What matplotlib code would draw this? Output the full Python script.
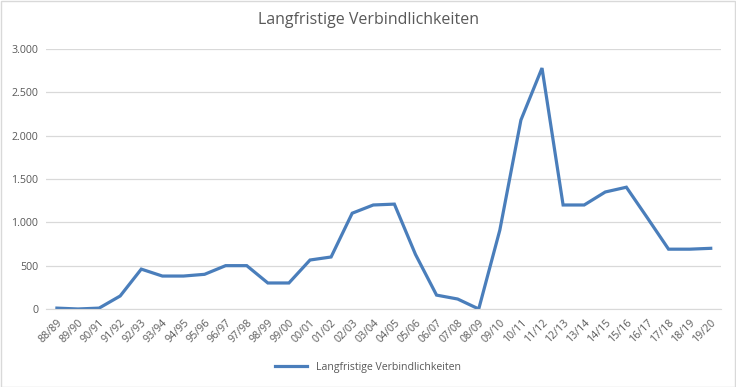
import matplotlib
matplotlib.use("Agg")
import matplotlib.pyplot as plt
from matplotlib.ticker import FuncFormatter

years = ["88/89", "89/90", "90/91", "91/92", "92/93", "93/94", "94/95", "95/96",
         "96/97", "97/98", "98/99", "99/00", "00/01", "01/02", "02/03", "03/04",
         "04/05", "05/06", "06/07", "07/08", "08/09", "09/10", "10/11", "11/12",
         "12/13", "13/14", "14/15", "15/16", "16/17", "17/18", "18/19", "19/20"]
values = [10, 0, 10, 150, 460, 380, 380, 400,
          500, 500, 300, 300, 565, 600, 1105, 1200,
          1210, 630, 160, 115, 0, 910, 2180, 2780,
          1200, 1200, 1350, 1405, 1050, 690, 690, 700]
series_name = "Langfristige Verbindlichkeiten"

plt.rcParams['font.family'] = ['Open Sans', 'DejaVu Sans']
grey = '#595959'

fig = plt.figure(figsize=(7.36, 3.87), dpi=100)
ax = fig.add_axes([0.063, 0.2016, 0.917, 0.6718])

x = list(range(len(years)))
ax.plot(x, values, color='#4a7ebb', linewidth=2.3, label=series_name,
        solid_joinstyle='miter')

ax.set_xlim(-0.5, len(years) - 0.5)
ax.set_ylim(0, 3000)
ax.set_yticks([0, 500, 1000, 1500, 2000, 2500, 3000])
ax.yaxis.set_major_formatter(FuncFormatter(lambda v, p: f"{int(v):,}".replace(",", ".")))
ax.set_xticks(x)
ax.set_xticklabels(years, rotation=45, ha='right', rotation_mode='anchor')
ax.tick_params(axis='both', length=0, labelsize=7.7, colors=grey)
ax.tick_params(axis='x', pad=6)
ax.tick_params(axis='y', pad=6)
ax.grid(axis='y', color='#d9d9d9', linewidth=0.9)
ax.set_axisbelow(True)
for s in ['top', 'right', 'left']:
    ax.spines[s].set_visible(False)
ax.spines['bottom'].set_color('#d9d9d9')

fig.suptitle("Langfristige Verbindlichkeiten", y=0.968, fontsize=11.5, color=grey)
fig.legend(loc='center', bbox_to_anchor=(0.5, 0.05), frameon=False,
           fontsize=7.6, labelcolor=grey, handlelength=3)

fig.patches.append(plt.Rectangle((0.001, 0.001), 0.997, 0.997, transform=fig.transFigure,
                                 fill=False, edgecolor='#d9d9d9', linewidth=1))

fig.savefig("out.png", dpi=100)
